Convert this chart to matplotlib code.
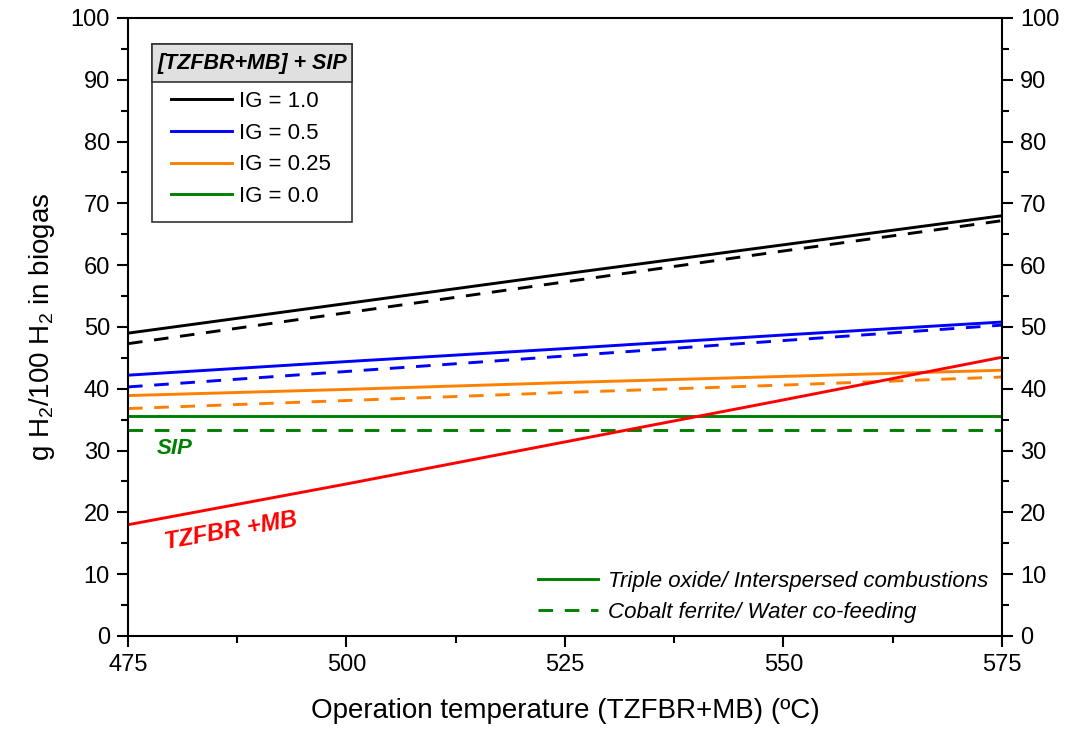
import matplotlib.pyplot as plt
from matplotlib.patches import Rectangle
from matplotlib.lines import Line2D
from matplotlib.ticker import MultipleLocator

plt.rcParams['font.family'] = ['Liberation Sans', 'DejaVu Sans']
plt.rcParams['mathtext.fontset'] = 'custom'
plt.rcParams['mathtext.rm'] = 'Liberation Sans'

# operation temperature (ºC)
temp = [475, 500, 525, 550, 575]

# g H2 / 100 H2 in biogas, solid = triple oxide, dashed = cobalt ferrite
ig10_solid = [49.0, 53.8, 58.6, 63.3, 68.0]
ig10_dash = [47.3, 52.3, 57.3, 62.3, 67.2]
ig05_solid = [42.2, 44.4, 46.5, 48.7, 50.8]
ig05_dash = [40.3, 42.8, 45.3, 47.8, 50.3]
ig025_solid = [38.9, 39.9, 41.0, 42.0, 43.0]
ig025_dash = [36.8, 38.1, 39.4, 40.6, 41.9]
ig00_solid = [35.6, 35.6, 35.6, 35.6, 35.6]
ig00_dash = [33.4, 33.4, 33.4, 33.4, 33.4]
tzfbr_mb = [18.0, 24.6, 31.4, 38.2, 45.1]

ig_labels = ['IG = 1.0', 'IG = 0.5', 'IG = 0.25', 'IG = 0.0']
ig_colors = ['#000000', '#0000ff', '#ff8000', '#008000']

fig = plt.figure(figsize=(10.65, 7.31), dpi=100)
ax = fig.add_axes([0.1202, 0.130, 0.8206, 0.8454])

lw = 2.1
dash = (5.0, 4.0)
solids = [ig10_solid, ig05_solid, ig025_solid, ig00_solid]
dashes = [ig10_dash, ig05_dash, ig025_dash, ig00_dash]
for s, d, c in zip(solids, dashes, ig_colors):
    ax.plot(temp, s, color=c, lw=lw)
    ax.plot(temp, d, color=c, lw=lw, ls=(0, dash))
ax.plot(temp, tzfbr_mb, color='#ff0000', lw=lw)

ax.set_xlim(475, 575)
ax.set_ylim(0, 100)
ax.xaxis.set_major_locator(MultipleLocator(25))
ax.xaxis.set_minor_locator(MultipleLocator(12.5))
ax.yaxis.set_major_locator(MultipleLocator(10))
ax.yaxis.set_minor_locator(MultipleLocator(5))
ax.tick_params(which='both', direction='out', width=1.5, labelsize=17,
               right=True, labelright=True, top=False)
ax.tick_params(which='major', length=8, pad=5)
ax.tick_params(which='minor', length=5)
for sp in ax.spines.values():
    sp.set_linewidth(1.5)

ax.set_xlabel('Operation temperature (TZFBR+MB) (ºC)', fontsize=20, labelpad=16)
ax.set_ylabel('g H$_2$/100 H$_2$ in biogas', fontsize=20, labelpad=10)

# labels on the lines
ax.text(480.3, 30.3, 'SIP', color='#008000', fontsize=16, fontweight='bold',
        fontstyle='italic', ha='center', va='center')
ax.text(486.8, 17.0, 'TZFBR +MB', color='#ff0000', fontsize=17, fontweight='bold',
        fontstyle='italic', ha='center', va='center', rotation=10)

# IG legend box with grey header
ax.add_patch(Rectangle((0.0275, 0.670), 0.2285, 0.288, transform=ax.transAxes,
                       facecolor='white', edgecolor='#333333', lw=1.2, zorder=5))
ax.add_patch(Rectangle((0.0275, 0.896), 0.2285, 0.062, transform=ax.transAxes,
                       facecolor='#e0e0e0', edgecolor='#333333', lw=1.2, zorder=6))
ax.text(0.1418, 0.926, '[TZFBR+MB] + SIP',
        transform=ax.transAxes, ha='center', va='center', fontsize=15.5,
        fontweight='bold', fontstyle='italic', zorder=7)
ig_handles = [Line2D([], [], color=c, lw=lw) for c in ig_colors]
leg1 = ax.legend(ig_handles, ig_labels, loc='upper left',
                 bbox_to_anchor=(0.026, 0.914), frameon=False, fontsize=16,
                 handlelength=2.75, handletextpad=0.3, labelspacing=0.48)
leg1.set_zorder(8)
ax.add_artist(leg1)

# material legend
mat_handles = [Line2D([], [], color='#008000', lw=lw),
               Line2D([], [], color='#008000', lw=lw, ls=(0, dash))]
mat_labels = ['Triple oxide/ Interspersed combustions', 'Cobalt ferrite/ Water co-feeding']
leg2 = ax.legend(mat_handles, mat_labels, loc='lower right', frameon=False,
                 prop={'size': 16, 'style': 'italic'}, handlelength=2.7,
                 handletextpad=0.45, labelspacing=0.45, borderaxespad=0.2)

fig.savefig('out.png', dpi=100)
